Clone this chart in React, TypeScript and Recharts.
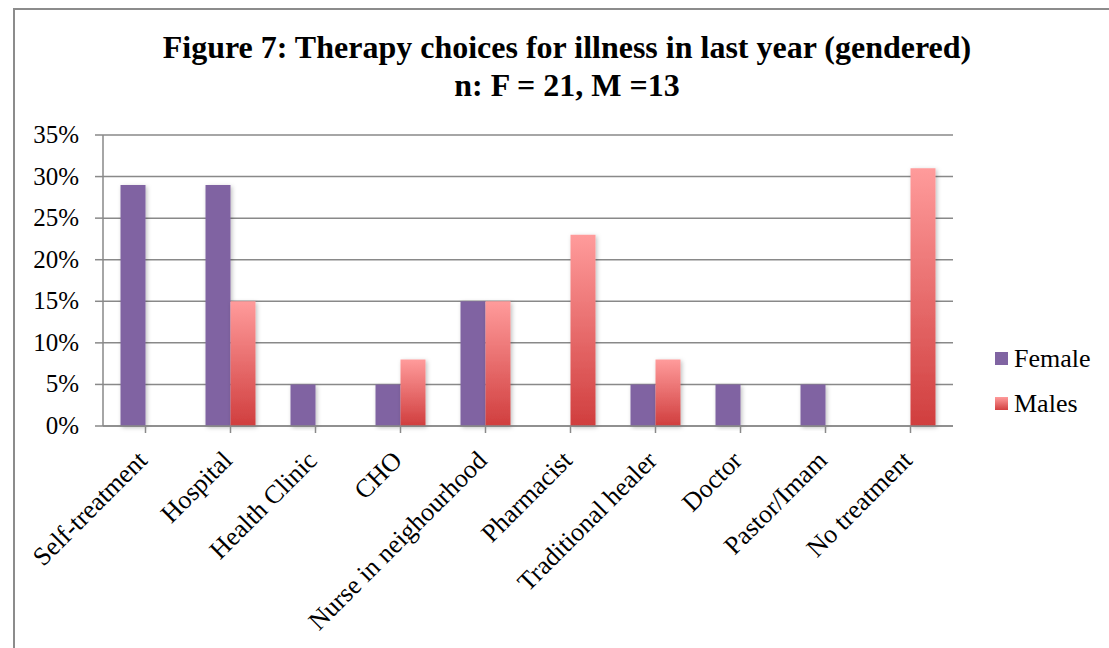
import React from 'react';
import { BarChart, Bar, XAxis, YAxis, CartesianGrid } from 'recharts';

const categories = [
  'Self-treatment', 'Hospital', 'Health Clinic', 'CHO', 'Nurse in neighourhood',
  'Pharmacist', 'Traditional healer', 'Doctor', 'Pastor/Imam', 'No treatment',
];
const female = [29, 29, 5, 5, 15, 0, 5, 5, 5, 0];
const males = [0, 15, 0, 8, 15, 23, 8, 0, 0, 31];
const yTicks = [0, 5, 10, 15, 20, 25, 30, 35];

const data = categories.map((name, i) => ({ name, Female: female[i], Males: males[i] }));

const FONT = "'Liberation Serif', 'Times New Roman', serif";
const AXIS = '#898989';

const XTick = (props: any) => {
  const { x, y, payload } = props;
  return (
    <g transform={`translate(${x + 3},${y + 27}) rotate(-45)`}>
      <text x={0} y={0} textAnchor="end" style={{ fontFamily: FONT }} fontSize={26} fill="#000">
        {payload.value}
      </text>
    </g>
  );
};

const YTick = (props: any) => {
  const { x, y, payload } = props;
  return (
    <text x={x} y={y} dy={8} textAnchor="end" style={{ fontFamily: FONT }} fontSize={25} fill="#000">
      {`${payload.value}%`}
    </text>
  );
};

export default function App() {
  return (
    <div style={{ position: 'absolute', left: 0, top: 0, width: 1109, height: 648, background: '#fff', overflow: 'hidden' }}>
      <div style={{ position: 'absolute', left: 13, top: 8, width: 1200, height: 700, borderLeft: '2px solid #8c8c8c', borderTop: '2px solid #8c8c8c' }} />
      <div style={{ position: 'absolute', left: 0, top: 28, width: 1134, textAlign: 'center', fontFamily: FONT, fontWeight: 'bold', fontSize: 32, lineHeight: '38px', color: '#000' }}>
        Figure 7: Therapy choices for illness in last year (gendered)<br />n: F = 21, M =13
      </div>
      <BarChart width={1109} height={648} data={data} barGap={0} barCategoryGap="20.6%"
        margin={{ top: 135, right: 156, bottom: 0, left: 0 }}
        style={{ position: 'absolute', left: 0, top: 0 }}>
        <defs>
          <linearGradient id="maleGrad" x1="0" y1="0" x2="0" y2="1">
            <stop offset="0%" stopColor="#FF9B9B" />
            <stop offset="100%" stopColor="#D03E3E" />
          </linearGradient>
          <filter id="barShadow" x="-20%" y="-5%" width="150%" height="115%">
            <feDropShadow dx="1.5" dy="1.5" stdDeviation="2" floodColor="#000" floodOpacity="0.25" />
          </filter>
        </defs>
        <CartesianGrid vertical={false} stroke={AXIS} strokeWidth={1.5} />
        <XAxis dataKey="name" height={222} interval={0} tick={<XTick />} tickSize={7}
          axisLine={{ stroke: AXIS, strokeWidth: 1.5 }} tickLine={{ stroke: AXIS, strokeWidth: 1.5 }} />
        <YAxis width={103} domain={[0, 35]} ticks={yTicks} interval={0}
          tickSize={8} tickMargin={16} tick={<YTick />}
          axisLine={{ stroke: AXIS, strokeWidth: 1.5 }} tickLine={{ stroke: AXIS, strokeWidth: 1.5 }} />
        <Bar dataKey="Female" fill="#8064A2" filter="url(#barShadow)" isAnimationActive={false} />
        <Bar dataKey="Males" fill="url(#maleGrad)" filter="url(#barShadow)" isAnimationActive={false} />
      </BarChart>
      <div style={{ position: 'absolute', left: 995, top: 336, fontFamily: FONT, fontSize: 26, color: '#000' }}>
        <div style={{ display: 'flex', alignItems: 'center', height: 45 }}>
          <span style={{ width: 13, height: 13, background: '#8064A2', marginRight: 6, display: 'inline-block' }} />
          Female
        </div>
        <div style={{ display: 'flex', alignItems: 'center', height: 45 }}>
          <span style={{ width: 13, height: 13, background: 'linear-gradient(#FF9B9B, #D24040)', marginRight: 6, display: 'inline-block' }} />
          Males
        </div>
      </div>
    </div>
  );
}
